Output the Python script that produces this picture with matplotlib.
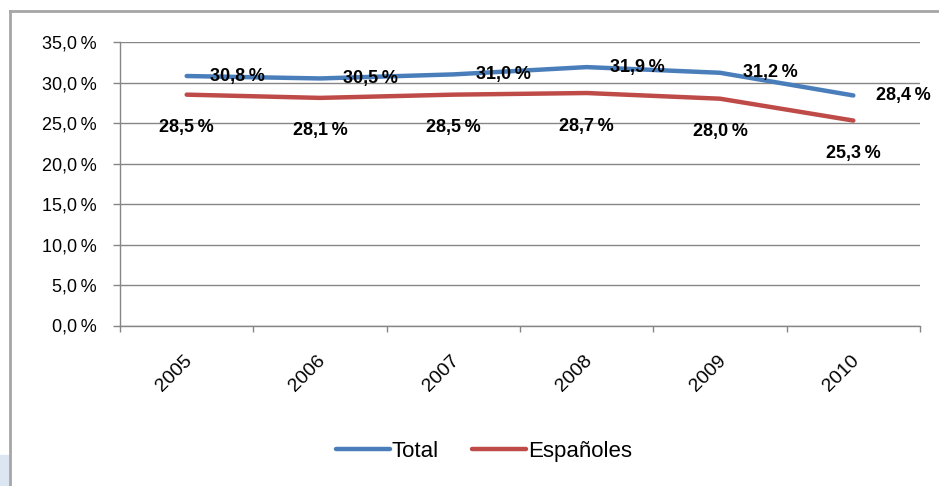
import matplotlib
matplotlib.use('Agg')
import matplotlib.pyplot as plt
from matplotlib.lines import Line2D
from matplotlib.patches import Rectangle
import matplotlib.transforms as mtransforms

plt.rcParams['font.family'] = ['Liberation Sans', 'DejaVu Sans']

# Data
years = ['2005', '2006', '2007', '2008', '2009', '2010']
total = [30.8, 30.5, 31.0, 31.9, 31.2, 28.4]
espanoles = [28.5, 28.1, 28.5, 28.7, 28.0, 25.3]
y_ticks = [0, 5, 10, 15, 20, 25, 30, 35]

blue = '#4a7ebb'
red = '#be4b48'
grid_col = '#868686'


def pct(v):
    return ('%.1f' % v).replace('.', ',') + '\u2009%'


fig = plt.figure(figsize=(9.39, 4.86), dpi=100)
ax = fig.add_axes([120 / 939, 1 - 325.5 / 486, 800 / 939, 283.5 / 486])

x = list(range(len(years)))
ax.plot(x, total, color=blue, lw=3.2, solid_capstyle='round', solid_joinstyle='round', label='Total')
ax.plot(x, espanoles, color=red, lw=3.2, solid_capstyle='round', solid_joinstyle='round', label='Españoles')

# Data labels
for xi, v in zip(x, total):
    ax.annotate(pct(v), (xi, v), xytext=(23, 0), textcoords='offset pixels',
                ha='left', va='center', fontsize=13, fontweight='bold')
for xi, v in zip(x, espanoles):
    ax.annotate(pct(v), (xi, v), xytext=(0, -33), textcoords='offset pixels',
                ha='center', va='center', fontsize=13, fontweight='bold')

# Axes
ax.set_xlim(-0.5, len(years) - 0.5)
ax.set_ylim(0, 35)
ax.set_yticks(y_ticks)
ax.set_yticklabels([pct(v) for v in y_ticks], fontsize=13)
ax.yaxis.grid(True, color=grid_col, lw=1)
ax.set_axisbelow(True)
ax.tick_params(axis='y', length=5, width=1, color=grid_col, pad=12)

ax.set_xticks(x)
ax.set_xticklabels(years, fontsize=14, rotation=45, ha='right', va='top',
                   rotation_mode='anchor')
ax.set_xticks([i - 0.5 for i in range(len(years) + 1)], minor=True)
ax.tick_params(axis='x', which='major', length=0, pad=19)
ax.tick_params(axis='x', which='minor', length=4.5, width=1, color=grid_col)
offset = mtransforms.ScaledTranslation(-3 / 100, 0, fig.dpi_scale_trans)
for lbl in ax.get_xticklabels():
    lbl.set_transform(lbl.get_transform() + offset)

for s in ['top', 'right']:
    ax.spines[s].set_visible(False)
for s in ['left', 'bottom']:
    ax.spines[s].set_color(grid_col)
    ax.spines[s].set_linewidth(1)

# Legend
fig.legend(loc='center', bbox_to_anchor=(484 / 939, 1 - 451 / 486), ncol=2,
           frameon=False, fontsize=16, handlelength=2.4, handletextpad=0.1,
           columnspacing=1.5)

# Outer chart frame
fig.add_artist(Line2D([10 / 939, 1], [1 - 11 / 486, 1 - 11 / 486], color='#a6a6a6', lw=2,
                      transform=fig.transFigure))
fig.add_artist(Line2D([10 / 939, 10 / 939], [0, 1 - 11 / 486], color='#a6a6a6', lw=2,
                      transform=fig.transFigure))
fig.add_artist(Rectangle((0, 0), 8 / 939, 31 / 486, color='#dce6f2',
                         transform=fig.transFigure))

fig.savefig('out.png', dpi=100)
